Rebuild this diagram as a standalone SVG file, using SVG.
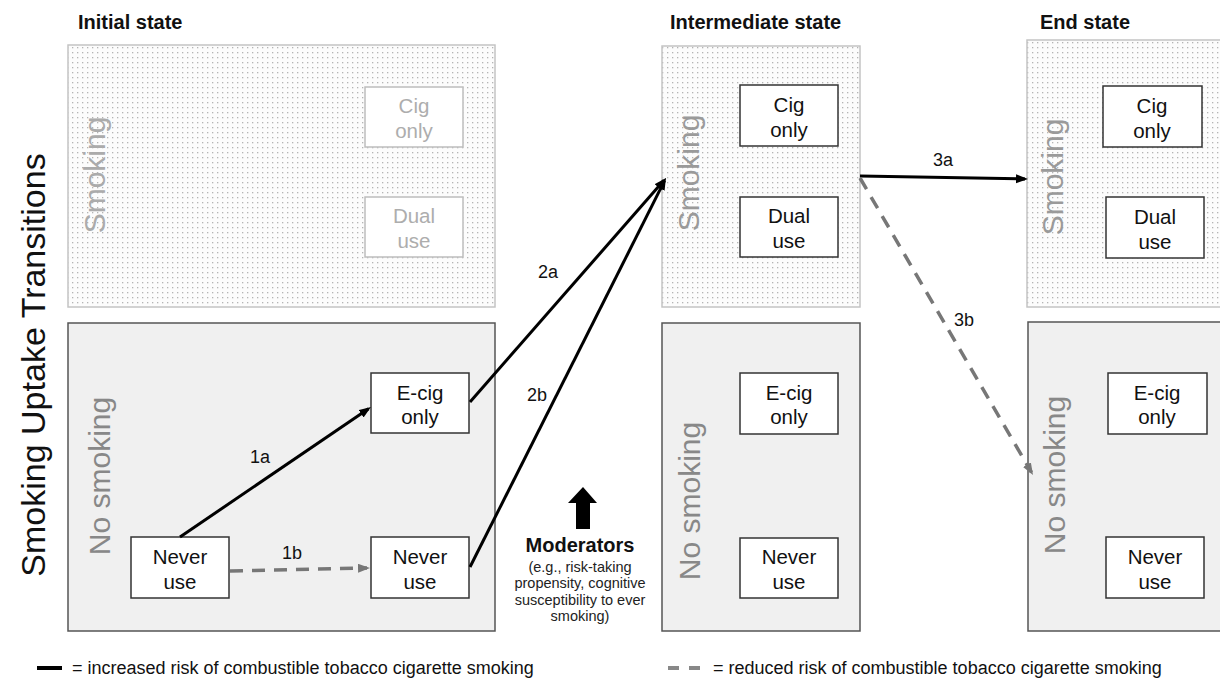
<svg xmlns="http://www.w3.org/2000/svg" width="1220" height="682" viewBox="0 0 1220 682">
<defs>
<pattern id="dots" width="5" height="5" patternUnits="userSpaceOnUse">
<rect width="5" height="5" fill="#fcfcfc"/>
<rect x="2" y="2" width="1.3" height="1.3" fill="#b4b4b4"/>
</pattern>
<marker id="ab" markerUnits="userSpaceOnUse" markerWidth="13" markerHeight="10" refX="9" refY="4.5" orient="auto">
<path d="M0,0 L12,4.5 L0,9 z" fill="#000"/>
</marker>
<marker id="ag" markerUnits="userSpaceOnUse" markerWidth="13" markerHeight="10" refX="9" refY="4.5" orient="auto">
<path d="M0,0 L12,4.5 L0,9 z" fill="#777"/>
</marker>
</defs>
<style>
text{font-family:"Liberation Sans",Arial,sans-serif}
.head{font-size:20px;font-weight:bold;fill:#111}
.smk{fill:url(#dots);stroke:#c4c4c4;stroke-width:1.5}
.nos{fill:#f0f0f0;stroke:#555;stroke-width:1.5}
.grp{font-size:30px;fill:#9a9a9a}
.grpf{font-size:30px;fill:#ababab}
.grpn{font-size:30px;fill:#888}
.box{fill:#fff;stroke:#333;stroke-width:1.5}
.boxf{fill:#fff;stroke:#bdbdbd;stroke-width:1.5}
.nt{font-size:20.5px;fill:#111;text-anchor:middle}
.ntf{font-size:20.5px;fill:#adadad;text-anchor:middle}
.lbl{font-size:18px;fill:#111;text-anchor:middle}
.solid{fill:none;stroke:#000;stroke-width:3}
.dash{fill:none;stroke:#777;stroke-width:3.5;stroke-dasharray:13 9}
.mod{font-size:14.5px;fill:#222;text-anchor:middle}
.leg{font-size:18px;fill:#111}
</style>
<rect width="1220" height="682" fill="#fff"/>

<text x="45" y="365" transform="rotate(-90 45 365)" text-anchor="middle" font-size="34" fill="#111">Smoking Uptake Transitions</text>

<text class="head" x="78" y="29">Initial state</text>
<text class="head" x="670" y="29">Intermediate state</text>
<text class="head" x="1040" y="29">End state</text>

<g id="initial-smoking">
<rect class="smk" x="68" y="45" width="427" height="262"/>
<text class="grpf" x="105" y="175" transform="rotate(-90 105 175)" text-anchor="middle">Smoking</text>
</g>
<g id="initial-cig-only">
<rect class="boxf" x="365" y="87" width="98" height="60"/>
<text class="ntf" x="414" y="113">Cig</text><text class="ntf" x="414" y="138">only</text>
</g>
<g id="initial-dual-use">
<rect class="boxf" x="365" y="197" width="98" height="60"/>
<text class="ntf" x="414" y="223">Dual</text><text class="ntf" x="414" y="248">use</text>
</g>
<g id="initial-no-smoking">
<rect class="nos" x="68" y="323" width="427" height="308"/>
<text class="grpn" x="110" y="476" transform="rotate(-90 110 476)" text-anchor="middle">No smoking</text>
</g>
<g id="initial-never-use-a">
<rect class="box" x="131" y="537" width="98" height="61"/>
<text class="nt" x="180" y="564">Never</text><text class="nt" x="180" y="589">use</text>
</g>
<g id="initial-ecig-only">
<rect class="box" x="371" y="373" width="98" height="60"/>
<text class="nt" x="420" y="400">E-cig</text><text class="nt" x="420" y="424">only</text>
</g>
<g id="initial-never-use-b">
<rect class="box" x="371" y="537" width="98" height="61"/>
<text class="nt" x="420" y="564">Never</text><text class="nt" x="420" y="589">use</text>
</g>

<g id="inter-smoking">
<rect class="smk" x="662" y="46" width="198" height="261"/>
<text class="grp" x="699" y="173" transform="rotate(-90 699 173)" text-anchor="middle">Smoking</text>
</g>
<g id="inter-cig-only">
<rect class="box" x="740" y="85" width="98" height="61"/>
<text class="nt" x="789" y="112">Cig</text><text class="nt" x="789" y="137">only</text>
</g>
<g id="inter-dual-use">
<rect class="box" x="740" y="197" width="98" height="60"/>
<text class="nt" x="789" y="223">Dual</text><text class="nt" x="789" y="248">use</text>
</g>
<g id="inter-no-smoking">
<rect class="nos" x="662" y="323" width="198" height="308"/>
<text class="grpn" x="700" y="501" transform="rotate(-90 700 501)" text-anchor="middle">No smoking</text>
</g>
<g id="inter-ecig-only">
<rect class="box" x="740" y="373" width="98" height="61"/>
<text class="nt" x="789" y="400">E-cig</text><text class="nt" x="789" y="424">only</text>
</g>
<g id="inter-never-use">
<rect class="box" x="740" y="538" width="98" height="60"/>
<text class="nt" x="789" y="564">Never</text><text class="nt" x="789" y="589">use</text>
</g>

<g id="end-smoking">
<rect class="smk" x="1027" y="40" width="210" height="267"/>
<text class="grp" x="1063" y="177" transform="rotate(-90 1063 177)" text-anchor="middle">Smoking</text>
</g>
<g id="end-cig-only">
<rect class="box" x="1103" y="86" width="99" height="61"/>
<text class="nt" x="1152" y="113">Cig</text><text class="nt" x="1152" y="138">only</text>
</g>
<g id="end-dual-use">
<rect class="box" x="1106" y="197" width="98" height="61"/>
<text class="nt" x="1155" y="224">Dual</text><text class="nt" x="1155" y="249">use</text>
</g>
<g id="end-no-smoking">
<rect class="nos" x="1028" y="322" width="210" height="309"/>
<text class="grpn" x="1065" y="475" transform="rotate(-90 1065 475)" text-anchor="middle">No smoking</text>
</g>
<g id="end-ecig-only">
<rect class="box" x="1108" y="373" width="99" height="61"/>
<text class="nt" x="1157" y="400">E-cig</text><text class="nt" x="1157" y="424">only</text>
</g>
<g id="end-never-use">
<rect class="box" x="1106" y="537" width="98" height="61"/>
<text class="nt" x="1155" y="564">Never</text><text class="nt" x="1155" y="589">use</text>
</g>

<g id="connectors">
<path class="solid" d="M180,537 L368.5,408.7" marker-end="url(#ab)"/>
<path class="dash" d="M230,571 L367,568" marker-end="url(#ag)"/>
<path class="solid" d="M470,402 L664,180.3" marker-end="url(#ab)"/>
<path class="solid" d="M470,567 L664.6,180.7" marker-end="url(#ab)"/>
<path class="solid" d="M860,176 L1025,179" marker-end="url(#ab)"/>
<path class="dash" d="M860,178 L1031.5,472.4" marker-end="url(#ag)"/>
<text class="lbl" x="260" y="463">1a</text>
<text class="lbl" x="292" y="559">1b</text>
<text class="lbl" x="548" y="278">2a</text>
<text class="lbl" x="537" y="401">2b</text>
<text class="lbl" x="943" y="166">3a</text>
<text class="lbl" x="964" y="326">3b</text>
</g>

<g id="moderators">
<path d="M583,487 L597,503 L590,503 L590,529 L576,529 L576,503 L568,503 z" fill="#000"/>
<text x="580" y="552" text-anchor="middle" font-size="20" font-weight="bold" fill="#111">Moderators</text>
<text class="mod" x="580" y="572">(e.g., risk-taking</text>
<text class="mod" x="580" y="588">propensity, cognitive</text>
<text class="mod" x="580" y="605">susceptibility to ever</text>
<text class="mod" x="580" y="621">smoking)</text>
</g>

<g id="legend">
<line x1="37" y1="668" x2="62" y2="668" stroke="#000" stroke-width="4"/>
<text class="leg" x="72" y="674">= increased risk of combustible tobacco cigarette smoking</text>
<line x1="668" y1="668" x2="700" y2="668" stroke="#888" stroke-width="4" stroke-dasharray="11 10"/>
<text class="leg" x="713" y="674">= reduced risk of combustible tobacco cigarette smoking</text>
</g>
</svg>
